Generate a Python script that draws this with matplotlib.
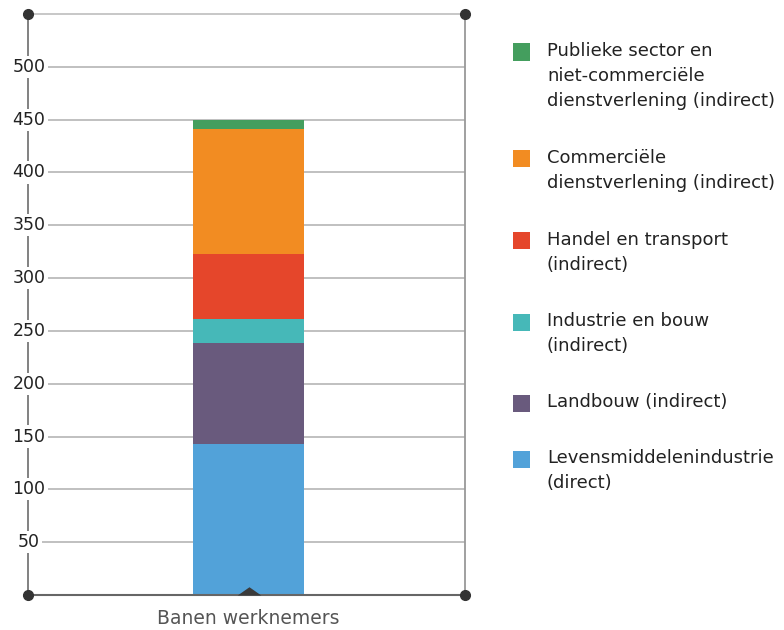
import matplotlib.pyplot as plt
import matplotlib.patches as patches
from matplotlib.path import Path

CATEGORY = "Banen werknemers"

SERIES = [
    "Levensmiddelenindustrie\n(direct)",
    "Landbouw (indirect)",
    "Industrie en bouw\n(indirect)",
    "Handel en transport\n(indirect)",
    "Commerciële\ndienstverlening (indirect)",
    "Publieke sector en\nniet-commerciële\ndienstverlening (indirect)",
]
VALUES = [143, 96, 22, 62, 118, 9]
COLORS = ["#52a2d9", "#695a7d", "#46b8b8", "#e5462b", "#f28c22", "#449e5e"]

Y_TICKS = [50, 100, 150, 200, 250, 300, 350, 400, 450, 500]

fig = plt.figure(figsize=(7.84, 6.3), dpi=100)
ax = fig.add_axes([28 / 784, 1 - 595 / 630, 437 / 784, 581 / 630])
ax.set_xlim(-1, 1)
ax.set_ylim(0, 550)

# gridlines
for t in Y_TICKS:
    ax.axhline(t, color="#b5b5b5", linewidth=1.2, zorder=0)
ax.axhline(550, color="#bdbdbd", linewidth=1.2, zorder=0, clip_on=False)

# stacked bar
bottom = 0
for val, col in zip(VALUES, COLORS):
    ax.bar(0.01, val, width=0.508, bottom=bottom, color=col, zorder=2)
    bottom += val

for s in ax.spines.values():
    s.set_visible(False)
ax.plot([-1, -1], [0, 550], color="#777777", linewidth=1.3, clip_on=False, zorder=1)
ax.plot([1, 1], [0, 550], color="#999999", linewidth=1.3, clip_on=False, zorder=1)
ax.plot([-1, 1], [0, 0], color="#666666", linewidth=1.5, clip_on=False, zorder=3)

# corner dots
for cx in (-1, 1):
    for cy in (0, 550):
        ax.plot(cx, cy, "o", color="#333333", markersize=7, clip_on=False, zorder=5)

# small flat marker under the bar
tri = Path([(-1, 0), (1, 0), (0, 0.7), (-1, 0)])
ax.plot(0.01, 0, marker=tri, color="#3a3a3a", markersize=17, markeredgewidth=0,
        clip_on=False, zorder=4)

ax.set_xticks([])
ax.set_yticks([])
for t in Y_TICKS:
    ax.text(-0.995, t, str(t), ha="center", va="center", fontsize=12.5, color="#222222",
            bbox=dict(facecolor="white", edgecolor="none", pad=1.5), zorder=4)

ax.text(0.01, -13, CATEGORY, ha="center", va="top", fontsize=13.5, color="#555555")

# legend (top entry first)
legend_y = [52, 159, 241, 322, 403, 459]
for lbl, col, py in zip(SERIES[::-1], COLORS[::-1], legend_y):
    fy = 1 - py / 630
    fig.patches.append(patches.Rectangle((513 / 784, fy - 8.5 / 630), 17 / 784, 17 / 630,
                                         transform=fig.transFigure, facecolor=col,
                                         edgecolor="none"))
    fig.text(547 / 784, fy + 10 / 630, lbl, ha="left", va="top", fontsize=13,
             color="#222222", linespacing=1.5)

fig.savefig("out.png", dpi=100)
